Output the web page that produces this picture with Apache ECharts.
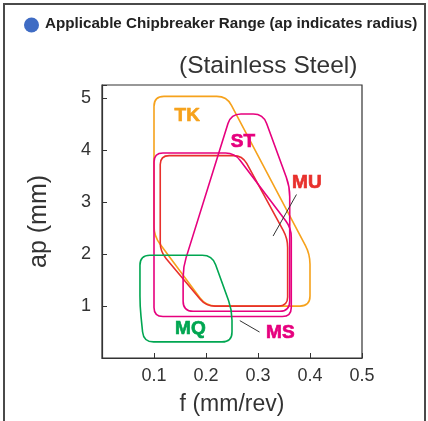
<!DOCTYPE html>
<html>
<head>
<meta charset="utf-8">
<script src="https://cdn.jsdelivr.net/npm/echarts@6.0.0/dist/echarts.min.js"></script>
<style>
  html, body { margin: 0; padding: 0; background: #fff; }
  #chart { width: 428px; height: 421px; }
</style>
</head>
<body>
<div id="chart"></div>
<script>
// axis ticks
const xTicks = [0.1, 0.2, 0.3, 0.4, 0.5]
const yTicks = [1, 2, 3, 4, 5]

// chipbreaker ranges, [f, ap] corners
const tkRange = [[0.1, 5.04], [0.24, 5.04], [0.4, 2.0], [0.4, 1.0], [0.2, 1.0], [0.1, 2.35]]
const muRange = [[0.112, 3.9], [0.27, 3.9], [0.357, 2.3], [0.357, 1.0], [0.2, 1.0], [0.112, 2.05]]
const stRange = [[0.248, 4.7], [0.31, 4.7], [0.361, 3.3], [0.361, 0.9], [0.156, 0.9], [0.156, 1.75]]
const msRange = [[0.1, 3.95], [0.255, 3.95], [0.364, 2.5], [0.364, 0.8], [0.1, 0.8]]
const mqRange = [[0.073, 1.98], [0.212, 1.98], [0.25, 0.92], [0.25, 0.31], [0.08, 0.31], [0.073, 1.0]]

// range names and where they are written
const labelNames = ['TK', 'ST', 'MU', 'MQ', 'MS']
const labelPos = [[0.164, 4.67], [0.271, 4.17], [0.394, 3.37], [0.17, 0.56], [0.343, 0.49]]

// leader lines
const muLeader = [[0.374, 3.15], [0.329, 2.35]]
const msLeader = [[0.265, 0.72], [0.303, 0.5]]

const ORANGE = '#f6a21c'
const MAGENTA = '#e6007e'
const RED = '#e8302c'
const GREEN = '#00a651'

const labelColors = [ORANGE, MAGENTA, RED, GREEN, MAGENTA]

function toward(p, q, r) {
  const dx = q[0] - p[0]
  const dy = q[1] - p[1]
  const len = Math.sqrt(dx * dx + dy * dy) || 1
  const t = Math.min(r, len / 2) / len
  return [p[0] + dx * t, p[1] + dy * t]
}

function roundedPath(pts, r) {
  const n = pts.length
  let d = ''
  for (let i = 0; i < n; i++) {
    const p = pts[i]
    const a = toward(p, pts[(i - 1 + n) % n], r)
    const b = toward(p, pts[(i + 1) % n], r)
    d += (i === 0 ? 'M' : 'L') + a[0] + ' ' + a[1] + ' Q' + p[0] + ' ' + p[1] + ' ' + b[0] + ' ' + b[1] + ' '
  }
  return d + 'Z'
}

function rangeSeries(name, pts, color, r) {
  return {
    type: 'custom',
    name: name,
    coordinateSystem: 'cartesian2d',
    silent: true,
    data: pts,
    encode: { x: 0, y: 1 },
    renderItem(params, api) {
      if (params.dataIndex !== 0) return
      const px = pts.map(p => api.coord(p))
      return {
        type: 'path',
        shape: { pathData: roundedPath(px, r) },
        style: { fill: 'none', stroke: color, lineWidth: 1.6 }
      }
    }
  }
}

function leaderSeries(pts) {
  return {
    type: 'line',
    silent: true,
    data: pts,
    symbol: 'none',
    lineStyle: { color: '#333', width: 1 }
  }
}

const chart = echarts.init(document.getElementById('chart'))

chart.setOption({
  animation: false,
  textStyle: { fontFamily: 'Liberation Sans, Arial, sans-serif' },
  grid: {
    left: 102, right: 66, top: 85, bottom: 62,
    show: true,
    borderColor: '#333',
    borderWidth: 1.2
  },
  graphic: [
    {
      type: 'rect',
      shape: { x: 4, y: 4, width: 421, height: 430 },
      style: { fill: 'none', stroke: '#4a4a4a', lineWidth: 2 }
    },
    {
      type: 'circle',
      shape: { cx: 31.5, cy: 25, r: 7.5 },
      style: { fill: '#3f6cc4' }
    },
    {
      type: 'text',
      left: 45,
      top: 16,
      style: {
        text: 'Applicable Chipbreaker Range (ap indicates radius)',
        font: 'bold 15.2px "Liberation Sans", Arial, sans-serif',
        fill: '#222'
      }
    },
    {
      type: 'text',
      left: 179,
      top: 54,
      style: {
        text: '(Stainless Steel)',
        font: '24.5px "Liberation Sans", Arial, sans-serif',
        fill: '#333'
      }
    }
  ],
  xAxis: {
    type: 'value',
    min: 0,
    max: 0.5,
    interval: 0.1,
    name: 'f (mm/rev)',
    nameLocation: 'middle',
    nameGap: 35,
    nameTextStyle: { fontSize: 23, color: '#333' },
    axisLine: { lineStyle: { color: '#333', width: 1.2 } },
    axisTick: { inside: true, length: 5, lineStyle: { color: '#333' } },
    axisLabel: {
      fontSize: 18,
      color: '#333',
      margin: 9,
      formatter: v => {
        const t = xTicks.find(x => Math.abs(x - v) < 1e-6)
        return t === undefined ? '' : t.toFixed(1)
      }
    },
    splitLine: { show: false }
  },
  yAxis: {
    type: 'value',
    min: 0,
    max: 5.26,
    interval: 1,
    name: 'ap (mm)',
    nameLocation: 'middle',
    nameGap: 50,
    nameRotate: 90,
    nameTextStyle: { fontSize: 25, color: '#333' },
    axisLine: { show: true, lineStyle: { color: '#333', width: 1.2 } },
    axisTick: { show: true, inside: true, length: 5, lineStyle: { color: '#333' } },
    axisLabel: {
      fontSize: 18,
      color: '#333',
      margin: 11,
      formatter: v => {
        const t = yTicks.find(y => Math.abs(y - v) < 1e-6)
        return t === undefined ? '' : String(t)
      }
    },
    splitLine: { show: false }
  },
  series: [
    rangeSeries('TK', tkRange, ORANGE, 10),
    rangeSeries('MU', muRange, RED, 9),
    rangeSeries('ST', stRange, MAGENTA, 10),
    rangeSeries('MS', msRange, MAGENTA, 9),
    rangeSeries('MQ', mqRange, GREEN, 10),
    leaderSeries(muLeader),
    leaderSeries(msLeader),
    {
      type: 'scatter',
      silent: true,
      symbolSize: 0,
      itemStyle: { opacity: 1 },
      data: labelPos.map((p, i) => ({
        value: p,
        name: labelNames[i],
        label: { color: labelColors[i], textBorderColor: labelColors[i] }
      })),
      label: {
        show: true,
        position: 'inside',
        formatter: p => p.name,
        fontSize: 19,
        fontWeight: 'bold',
        textBorderWidth: 0.7,
        opacity: 1
      }
    }
  ]
})
</script>
</body>
</html>
